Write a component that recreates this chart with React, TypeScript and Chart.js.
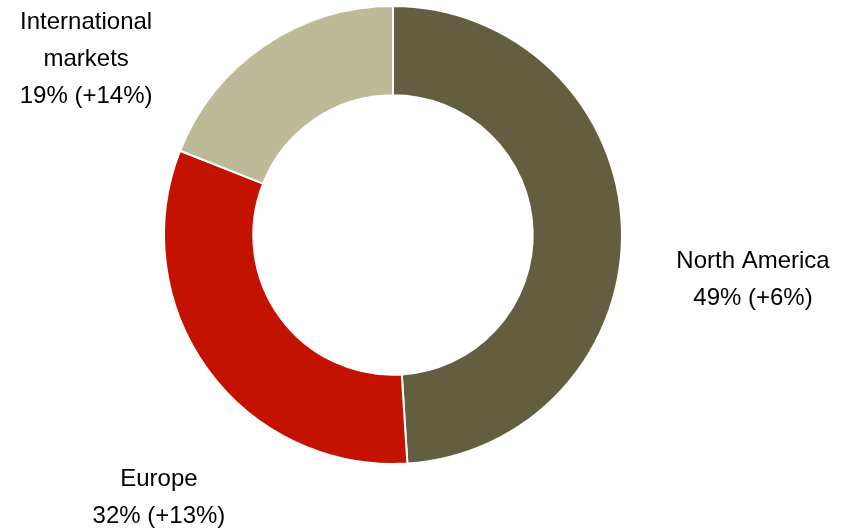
import React, { useEffect, useRef } from "react";
import { Chart, registerables } from "chart.js";

Chart.register(...registerables);

const regions = ["North America", "Europe", "International markets"];
const shares = [49, 32, 19];
const growth = ["+6%", "+13%", "+14%"];
const labelLines = [["North America"], ["Europe"], ["International", "markets"]];
const colors = ["#635E40", "#C41200", "#BDBB97"];
// label anchor offsets relative to the donut centre, in units of the outer radius
const labelOffsets = [
  [1.572, 0.195],
  [-1.022, 1.15],
  [-1.34, -0.765],
];

const labelPlugin = {
  id: "sliceLabels",
  afterDraw(chart: any) {
    const meta = chart.getDatasetMeta(0);
    const ctx = chart.ctx;
    ctx.save();
    ctx.font = '24px "Liberation Sans", Arial, sans-serif';
    ctx.fillStyle = "#000000";
    ctx.textAlign = "center";
    ctx.textBaseline = "middle";
    meta.data.forEach((arc: any, i: number) => {
      const r = arc.outerRadius;
      const cx = arc.x + labelOffsets[i][0] * r;
      const cy = arc.y + labelOffsets[i][1] * r;
      const lines = [...labelLines[i], `${shares[i]}% (${growth[i]})`];
      const lh = 37;
      const startY = cy - ((lines.length - 1) * lh) / 2;
      lines.forEach((t, k) => ctx.fillText(t, cx, startY + k * lh));
    });
    ctx.restore();
  },
};

export default function App() {
  const ref = useRef<HTMLCanvasElement | null>(null);
  useEffect(() => {
    document.body.style.margin = "0";
    const chart = new Chart(ref.current!, {
      type: "doughnut",
      data: {
        labels: regions,
        datasets: [
          {
            data: shares,
            backgroundColor: colors,
            borderColor: "#ffffff",
            borderWidth: 2,
          },
        ],
      },
      options: {
        animation: false,
        responsive: false,
        cutout: "61%",
        layout: { padding: { top: 5, bottom: 64, left: 163, right: 222 } },
        plugins: { legend: { display: false }, tooltip: { enabled: false } },
      },
      plugins: [labelPlugin],
    });
    return () => chart.destroy();
  }, []);
  return (
    <div style={{ width: 845, height: 529 }}>
      <canvas ref={ref} width={845} height={529} style={{ display: "block" }} />
    </div>
  );
}
